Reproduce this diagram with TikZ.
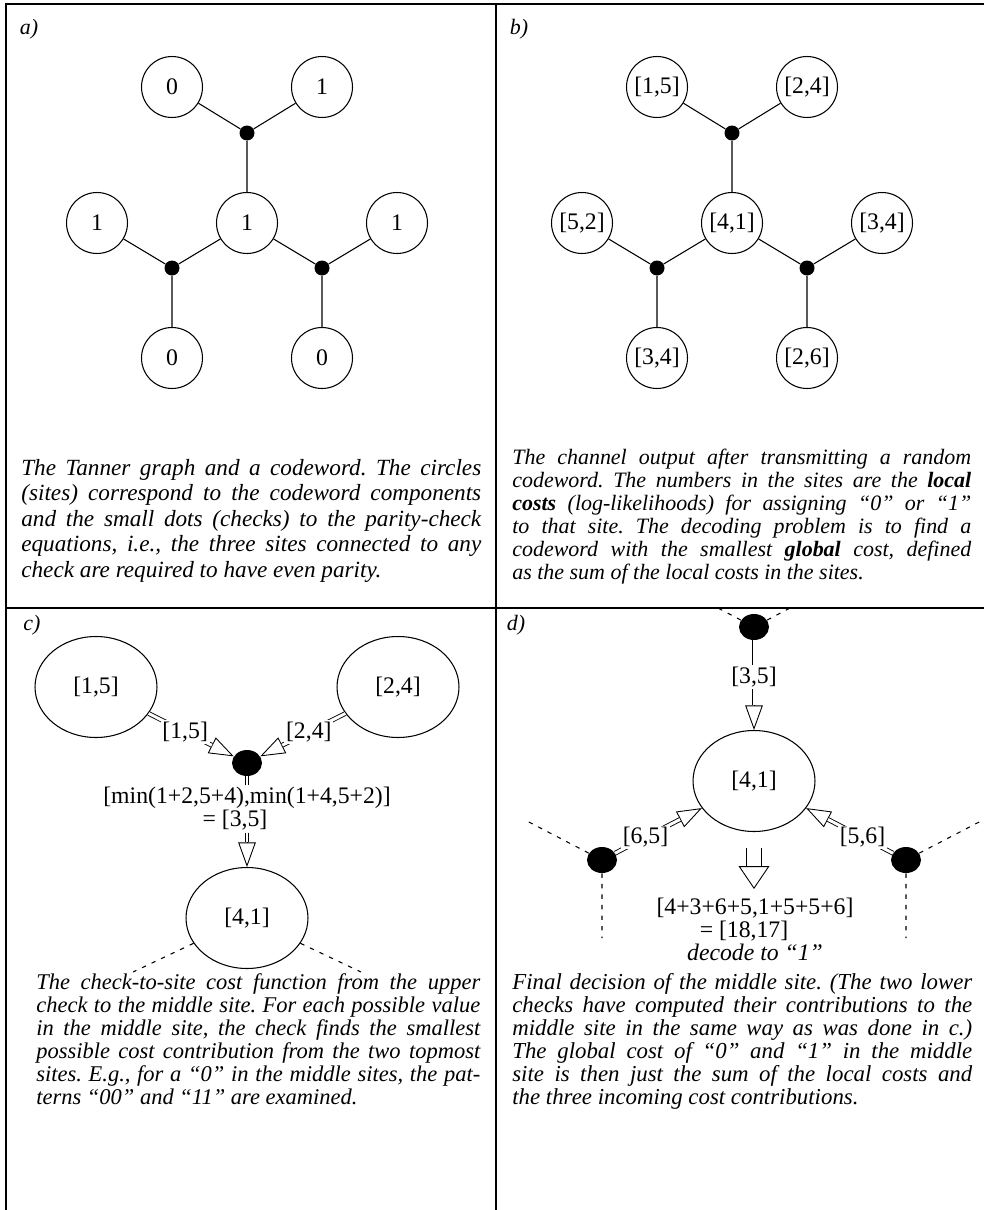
\documentclass[tikz,border=0pt]{standalone}
\usepackage{fontspec}
\setmainfont{Liberation Serif}
\usetikzlibrary{positioning, arrows.meta, shapes.geometric, calc}
\frenchspacing
\newcommand{\captfont}[2]{\itshape\fontsize{#1}{#2}\selectfont\lineskiplimit=-20pt\relax}

\begin{document}
\begin{tikzpicture}[
    x=0.02cm, y=-0.02cm,
    site/.style={circle, draw, line width=0.6pt, minimum size=1.22cm, inner sep=0pt,
        font=\fontsize{13.5}{15}\selectfont},
    bigsite/.style={ellipse, draw, line width=0.6pt, minimum width=2.44cm, minimum height=2.02cm,
        inner sep=0pt, font=\fontsize{13.5}{15}\selectfont},
    chk/.style={circle, fill, minimum size=0.3cm, inner sep=0pt},
    bigchk/.style={ellipse, fill, minimum width=0.6cm, minimum height=0.52cm, inner sep=0pt},
    link/.style={line width=0.6pt},
    loose/.style={line width=0.6pt, dash pattern=on 2.5pt off 3.5pt},
    costshaft/.style={double, double distance=1.7pt, line width=0.5pt},
    costtip/.style={line width=0.5pt, -{Triangle[open, length=14pt, width=10pt]}},
    fatshaft/.style={double, double distance=8.5pt, line width=0.5pt},
    fattip/.style={line width=0.5pt, -{Triangle[open, length=13pt, width=17.5pt]}},
    cost/.style={fill=white, inner sep=1pt, font=\fontsize{13.5}{15}\selectfont},
    costtext/.style={inner sep=1pt, align=center, font=\fontsize{13.5}{11.6}\selectfont},
    tag/.style={font=\itshape\fontsize{12.5}{14}\selectfont},
    capt/.style={anchor=north west, inner sep=0pt, align=justify},
]

% ── page and frame ──
\fill[white] (0,0) rectangle (984,1210);
\useasboundingbox (0,0) rectangle (984,1210);
\draw[line width=0.8pt] (984,4) -- (6,4) -- (6,1210);
\draw[line width=0.8pt] (496,4) -- (496,1210);
\draw[line width=0.8pt] (6,608) -- (984,608);

% ══════════════════════════════════════════════
% a) Tanner graph with a codeword
% ══════════════════════════════════════════════
\node[tag] (taga) at (29,29) {a)};
\node[chk] (atop) at (247,133) {};
\node[site] (a1) at (172,87) {0};
\node[site] (a2) at (322,87) {1};
\node[site] (a3) at (247,223) {1};
\node[chk] (acl) at (172,268) {};
\node[chk] (acr) at (322,268) {};
\node[site] (a4) at (97,223) {1};
\node[site] (a5) at (397,223) {1};
\node[site] (a6) at (172,358) {0};
\node[site] (a7) at (322,358) {0};

\draw[link] (a1) -- (atop) (a2) -- (atop) (a3) -- (atop);
\draw[link] (a4) -- (acl) (a3) -- (acl) (a6) -- (acl);
\draw[link] (a3) -- (acr) (a5) -- (acr) (a7) -- (acr);

\node[capt, text width=9.2cm, font=\captfont{13.2}{14.5}] (capa) at (21,459)
    {The Tanner graph and a codeword. The circles\linebreak
     (sites) correspond to the codeword components\linebreak
     and the small dots (checks) to the parity-check\linebreak
     equations, i.e., the three sites connected to any\linebreak
     check are required to have even parity.};

% ══════════════════════════════════════════════
% b) channel output, local costs
% ══════════════════════════════════════════════
\node[tag] (tagb) at (519,29) {b)};
\node[chk] (btop) at (732,133) {};
\node[site] (b1) at (657,87) {[1,5]};
\node[site] (b2) at (807,87) {[2,4]};
\node[site] (b3) at (732,223) {[4,1]};
\node[chk] (bcl) at (657,268) {};
\node[chk] (bcr) at (807,268) {};
\node[site] (b4) at (582,223) {[5,2]};
\node[site] (b5) at (882,223) {[3,4]};
\node[site] (b6) at (657,358) {[3,4]};
\node[site] (b7) at (807,358) {[2,6]};

\draw[link] (b1) -- (btop) (b2) -- (btop) (b3) -- (btop);
\draw[link] (b4) -- (bcl) (b3) -- (bcl) (b6) -- (bcl);
\draw[link] (b3) -- (bcr) (b5) -- (bcr) (b7) -- (bcr);

\node[capt, text width=9.18cm, font=\captfont{12.5}{13.1}] (capb) at (512,449)
    {The channel output after transmitting a random\linebreak
     codeword. The numbers in the sites are the \textbf{local}\linebreak
     \textbf{costs} (log-likelihoods) for assigning “0” or “1”\linebreak
     to that site. The decoding problem is to find a\linebreak
     codeword with the smallest \textbf{global} cost, defined\linebreak
     as the sum of the local costs in the sites.};

% ══════════════════════════════════════════════
% c) check-to-site cost function
% ══════════════════════════════════════════════
\node[tag] (tagc) at (32,625) {c)};
\node[bigsite] (c15) at (96,687) {[1,5]};
\node[bigsite] (c24) at (398,687) {[2,4]};
\node[bigchk] (cchk) at (247,763) {};
\node[costtext, anchor=north] (cmin) at (247,785)
    {[min(1+2,5+4),min(1+4,5+2)]\\\hspace*{-0.48cm}= [3,5]};
\node[bigsite] (c41) at (247,918) {[4,1]};
\coordinate (cdl) at (133,972);
\coordinate (cdr) at (361,972);

\draw[costtip] (c15) -- (cchk);
\draw[costshaft, shorten >=14pt] (c15) -- (cchk) node[cost, pos=0.43] {[1,5]};
\draw[costtip] (c24) -- (cchk);
\draw[costshaft, shorten >=14pt] (c24) -- (cchk) node[cost, pos=0.43] {[2,4]};
\draw[costshaft] (cchk) -- (cmin);
\draw[costtip] (cmin.south) -- (c41);
\draw[costshaft, shorten >=14pt] (cmin.south) -- (c41);
\draw[loose] (c41) -- (cdl) (c41) -- (cdr);

\node[capt, text width=8.88cm, font=\captfont{12.8}{13.1}] (capc) at (36,973)
    {The check-to-site cost function from the upper\linebreak
     check to the middle site. For each possible value\linebreak
     in the middle site, the check finds the smallest\linebreak
     possible cost contribution from the two topmost\linebreak
     sites. E.g., for a “0” in the middle sites, the pat-\linebreak
     terns “00” and “11” are examined.};

% ══════════════════════════════════════════════
% d) final decision in the middle site
% ══════════════════════════════════════════════
\node[tag] (tagd) at (516,625) {d)};
\node[bigchk] (dtop) at (754,627) {};
\node[cost] (d35) at (754,677) {[3,5]};
\node[bigsite] (d41) at (754,781) {[4,1]};
\node[bigchk] (dl) at (602,860) {};
\node[bigchk] (dr) at (906,860) {};
\node[costtext, anchor=north, font=\fontsize{13.5}{13}\selectfont] (dsum) at (755,896)
    {[4+3+6+5,1+5+5+6]\\\hspace*{-0.44cm}= [18,17]\\\itshape decode to “1”};
\coordinate (dtl) at (718,608);
\coordinate (dtr) at (790,608);
\coordinate (dlu) at (525,820);
\coordinate (dld) at (602,938);
\coordinate (dru) at (983,820);
\coordinate (drd) at (906,938);

\draw[loose] (dtop) -- (dtl) (dtop) -- (dtr);
\draw[loose] (dl) -- (dlu) (dl) -- (dld);
\draw[loose] (dr) -- (dru) (dr) -- (drd);

\draw[costshaft] (dtop) -- (d35);
\draw[costtip] (d35) -- (d41);
\draw[costshaft, shorten >=14pt] (d35) -- (d41);
\draw[costtip] (dl) -- (d41);
\draw[costshaft, shorten >=14pt] (dl) -- (d41) node[cost, pos=0.35] {[6,5]};
\draw[costtip] (dr) -- (d41);
\draw[costshaft, shorten >=14pt] (dr) -- (d41) node[cost, pos=0.35] {[5,6]};
\draw[fattip, shorten <=9pt, shorten >=4pt] (d41.south) -- (d41.south |- dsum.north);
\draw[fatshaft, shorten <=9pt, shorten >=17pt] (d41.south) -- (d41.south |- dsum.north);

\node[capt, text width=9.2cm, font=\captfont{13}{13.1}] (capd) at (512,973)
    {Final decision of the middle site. (The two lower\linebreak
     checks have computed their contributions to the\linebreak
     middle site in the same way as was done in c.)\linebreak
     The global cost of “0” and “1” in the middle\linebreak
     site is then just the sum of the local costs and\linebreak
     the three incoming cost contributions.};

\end{tikzpicture}
\end{document}
